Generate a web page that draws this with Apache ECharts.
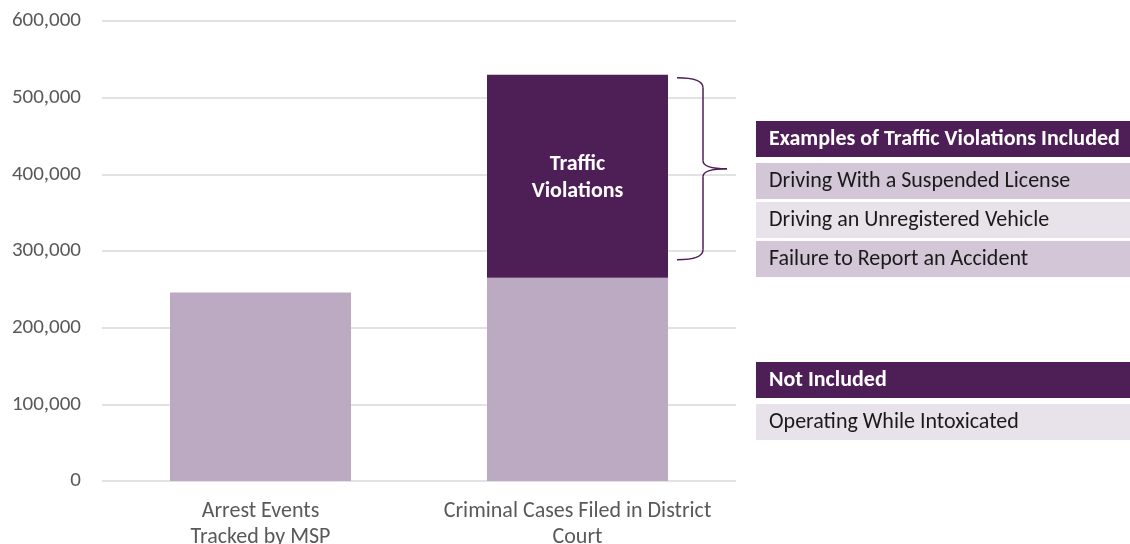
<!DOCTYPE html>
<html>
<head>
<meta charset="utf-8">
<script src="https://cdn.jsdelivr.net/npm/echarts@6/dist/echarts.min.js"></script>
<style>
  html, body { margin: 0; padding: 0; background: #fff; }
  #main { width: 1130px; height: 544px; }
</style>
</head>
<body>
<div id="main"></div>
<script>
// data
var categories = ['Arrest Events\nTracked by MSP', 'Criminal Cases Filed in District\nCourt'];
var baseValues = [246000, 265000];
var trafficValues = [null, 265000];
var trafficLabel = 'Traffic\nViolations';
var yTicks = { min: 0, max: 600000, interval: 100000 };

var includedHeader = 'Examples of Traffic Violations Included';
var includedItems = ['Driving With a Suspended License', 'Driving an Unregistered Vehicle', 'Failure to Report an Accident'];
var excludedHeader = 'Not Included';
var excludedItems = ['Operating While Intoxicated'];

var FONT = 'Carlito, Calibri, Lato, sans-serif';
var DARK = '#4e1e56';
var LIGHT = '#bbaac1';
var ROW_A = '#d2c6d7';
var ROW_B = '#e8e3ea';

var chart = echarts.init(document.getElementById('main'));

var option = {
    animation: false,
    textStyle: { fontFamily: FONT },
    grid: { left: 102, right: 394, top: 21, bottom: 63, outerBoundsMode: 'none', containLabel: false },
    xAxis: {
        type: 'category',
        data: categories,
        axisLine: { show: false },
        axisTick: { show: false },
        axisLabel: { interval: 0, hideOverlap: false, color: '#595959', fontSize: 22, lineHeight: 26, margin: 17, fontFamily: FONT }
    },
    yAxis: {
        type: 'value',
        min: yTicks.min,
        max: yTicks.max,
        interval: yTicks.interval,
        axisLabel: {
            color: '#595959', fontSize: 21, margin: 21, fontFamily: FONT,
            formatter: function (v) { return v.toLocaleString('en-US'); }
        },
        splitLine: { lineStyle: { color: '#d9d9d9', width: 1.5 } }
    },
    series: [
        {
            name: 'Other',
            type: 'bar',
            stack: 'total',
            barWidth: 181,
            itemStyle: { color: LIGHT },
            data: baseValues
        },
        {
            name: 'Traffic Violations',
            type: 'bar',
            stack: 'total',
            barWidth: 181,
            itemStyle: { color: DARK },
            label: {
                show: true,
                position: 'inside',
                offset: [0, 2],
                formatter: trafficLabel,
                color: '#fff',
                fontWeight: 'bold',
                fontSize: 22,
                lineHeight: 27,
                fontFamily: FONT
            },
            data: trafficValues
        }
    ]
};
chart.setOption(option);

// brace next to the traffic segment, placed through the axis
var topPt = chart.convertToPixel({ gridIndex: 0 }, [1, baseValues[1] + trafficValues[1]]);
var botPt = chart.convertToPixel({ gridIndex: 0 }, [1, baseValues[1]]);
var bx0 = 677, bx1 = 703, bx2 = 727;
var by0 = topPt[1] + 3, by2 = botPt[1] - 18, by1 = (by0 + by2) / 2;
var braceStyle = { stroke: DARK, lineWidth: 1.5, fill: null };
function curve(x1, y1, cx, cy, x2, y2) {
    return { type: 'bezierCurve', shape: { x1: x1, y1: y1, cpx1: cx, cpy1: cy, x2: x2, y2: y2 }, style: braceStyle };
}
function seg(x1, y1, x2, y2) {
    return { type: 'line', shape: { x1: x1, y1: y1, x2: x2, y2: y2 }, style: braceStyle };
}
var graphics = [
    curve(bx0, by0, bx1, by0, bx1, by0 + 10),
    seg(bx1, by0 + 10, bx1, by1 - 8),
    curve(bx1, by1 - 8, bx1, by1, bx2, by1),
    curve(bx2, by1, bx1, by1, bx1, by1 + 8),
    seg(bx1, by1 + 8, bx1, by2 - 10),
    curve(bx1, by2 - 10, bx1, by2, bx0, by2)
];

// side tables
function addTable(header, items, top) {
    var x = 756, w = 374;
    graphics.push({ type: 'rect', shape: { x: x, y: top, width: w, height: 36 }, style: { fill: DARK } });
    graphics.push({ type: 'text', x: x + 13, y: top + 18,
        style: { text: header, fill: '#fff', font: 'bold 22px ' + FONT, verticalAlign: 'middle' } });
    var y = top + 42;
    items.forEach(function (t, i) {
        var bg = (items.length > 1 && i % 2 === 0) ? ROW_A : ROW_B;
        graphics.push({ type: 'rect', shape: { x: x, y: y, width: w, height: 36 }, style: { fill: bg } });
        graphics.push({ type: 'text', x: x + 13, y: y + 18,
            style: { text: t, fill: '#1a1a1a', font: '22px ' + FONT, verticalAlign: 'middle' } });
        y += 39;
    });
}
addTable(includedHeader, includedItems, 121);
addTable(excludedHeader, excludedItems, 362);

chart.setOption({ graphic: graphics });
</script>
</body>
</html>
